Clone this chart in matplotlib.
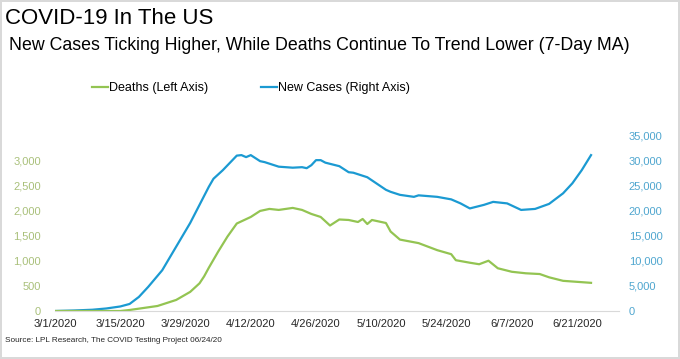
#!/usr/bin/env python3
#
# COVID-19 in the US: new cases vs deaths, 7-day moving average
#
import numpy as np
import pandas as pd
import matplotlib
matplotlib.use('Agg')
import matplotlib.pyplot as plt
import matplotlib.dates as mdates
from matplotlib.ticker import FuncFormatter

matplotlib.rc('font', family=['Liberation Sans', 'DejaVu Sans'])

# Values (7-day MA)
case_dates = [
    '2020-03-01', '2020-03-05', '2020-03-09', '2020-03-12', '2020-03-15',
    '2020-03-17', '2020-03-19', '2020-03-21', '2020-03-24', '2020-03-27',
    '2020-03-30', '2020-04-01', '2020-04-03', '2020-04-04', '2020-04-06',
    '2020-04-09', '2020-04-10', '2020-04-11', '2020-04-12', '2020-04-14',
    '2020-04-15', '2020-04-18', '2020-04-21', '2020-04-23', '2020-04-24',
    '2020-04-25', '2020-04-26', '2020-04-27', '2020-04-28', '2020-05-01',
    '2020-05-03', '2020-05-04', '2020-05-06', '2020-05-07', '2020-05-11',
    '2020-05-12', '2020-05-14', '2020-05-17', '2020-05-18', '2020-05-22',
    '2020-05-25', '2020-05-27', '2020-05-29', '2020-06-01', '2020-06-03',
    '2020-06-06', '2020-06-09', '2020-06-12', '2020-06-15', '2020-06-18',
    '2020-06-20', '2020-06-22', '2020-06-24',
]
new_cases = [
    0, 100, 250, 500, 900,
    1400, 2800, 4800, 8100, 12800,
    17500, 21100, 24700, 26300, 28000,
    30900, 31000, 30600, 31000, 29800,
    29600, 28700, 28500, 28600, 28400,
    29000, 30000, 30000, 29500, 28800,
    27600, 27500, 26900, 26600, 24100,
    23700, 23100, 22700, 23000, 22700,
    22200, 21400, 20400, 21100, 21700,
    21400, 20100, 20300, 21300, 23400,
    25400, 28000, 31000,
]

death_dates = [
    '2020-03-01', '2020-03-08', '2020-03-15', '2020-03-17', '2020-03-23',
    '2020-03-27', '2020-03-30', '2020-04-01', '2020-04-02', '2020-04-03',
    '2020-04-05', '2020-04-07', '2020-04-09', '2020-04-12', '2020-04-14',
    '2020-04-16', '2020-04-18', '2020-04-21', '2020-04-23', '2020-04-25',
    '2020-04-27', '2020-04-29', '2020-05-01', '2020-05-03', '2020-05-05',
    '2020-05-06', '2020-05-07', '2020-05-08', '2020-05-11', '2020-05-12',
    '2020-05-14', '2020-05-18', '2020-05-22', '2020-05-25', '2020-05-26',
    '2020-05-29', '2020-05-31', '2020-06-02', '2020-06-04', '2020-06-07',
    '2020-06-10', '2020-06-13', '2020-06-15', '2020-06-18', '2020-06-21',
    '2020-06-24',
]
deaths = [
    0, 0, 0, 20, 100,
    220, 380, 550, 690, 860,
    1180, 1480, 1740, 1870, 1990,
    2030, 2010, 2050, 2010, 1930,
    1870, 1700, 1820, 1810, 1770,
    1830, 1730, 1810, 1750, 1580,
    1420, 1350, 1210, 1130, 1010,
    960, 930, 1000, 850, 780,
    750, 735, 670, 600, 580,
    560,
]

x_ticks = pd.date_range('2020-03-01', '2020-06-21', freq='14D')
left_ticks = [0, 500, 1000, 1500, 2000, 2500, 3000]
right_ticks = [0, 5000, 10000, 15000, 20000, 25000, 30000, 35000]

green = '#93C452'
blue = '#1B9AD2'

fig = plt.figure(figsize=(6.8, 3.59), dpi=100)
fig.patch.set_edgecolor('#D9D9D9')
fig.patch.set_linewidth(1.5)

ax = fig.add_axes([55 / 680, 1 - 311 / 359, 564 / 680, 176 / 359])
ax2 = ax.twinx()

l1, = ax.plot(pd.to_datetime(death_dates), deaths, color=green, lw=1.6,
              label='Deaths (Left Axis)')
l2, = ax2.plot(pd.to_datetime(case_dates), new_cases, color=blue, lw=1.6,
               label='New Cases (Right Axis)')
ax.set_zorder(ax2.get_zorder() + 1)
ax.patch.set_visible(False)

ax.set_xlim(pd.Timestamp('2020-03-01'), pd.Timestamp('2020-06-30'))
ax.set_ylim(0, 3500)
ax2.set_ylim(0, 35000)
ax.set_xticks(x_ticks)
ax.xaxis.set_major_formatter(FuncFormatter(
    lambda v, p: '{d.month}/{d.day}/{d.year}'.format(d=mdates.num2date(v))))
ax.set_yticks(left_ticks)
ax2.set_yticks(right_ticks)
comma = FuncFormatter(lambda v, p: '{:,.0f}'.format(v))
ax.yaxis.set_major_formatter(comma)
ax2.yaxis.set_major_formatter(comma)

for a in (ax, ax2):
    for s in ('top', 'left', 'right'):
        a.spines[s].set_visible(False)
    a.spines['bottom'].set_color('#D9D9D9')
ax2.spines['bottom'].set_visible(False)

ax.tick_params(axis='x', length=0, pad=6, labelsize=8, labelcolor='#262626')
ax.tick_params(axis='y', length=0, pad=10, labelsize=8, labelcolor='#A9C07A')
ax2.tick_params(axis='y', length=0, pad=7, labelsize=8, labelcolor='#4FA6CF')

fig.text(5 / 680, 1 - 19 / 359, 'COVID-19 In The US', fontsize=16,
         va='center', ha='left', color='black')
fig.text(9 / 680, 1 - 45 / 359,
         'New Cases Ticking Higher, While Deaths Continue To Trend Lower '
         '(7-Day MA)', fontsize=12.8, va='center', ha='left', color='black')

fig.legend(handles=[l1, l2], loc='center', ncol=2, frameon=False,
           bbox_to_anchor=(251 / 680, 1 - 88 / 359), fontsize=9,
           handlelength=1.3, handletextpad=0.1, columnspacing=4.2)

fig.text(5 / 680, 1 - 340 / 359,
         'Source: LPL Research, The COVID Testing Project 06/24/20',
         fontsize=5.9, va='center', ha='left', color='#262626')

plt.savefig('out.png', dpi=100, edgecolor=fig.get_edgecolor())
